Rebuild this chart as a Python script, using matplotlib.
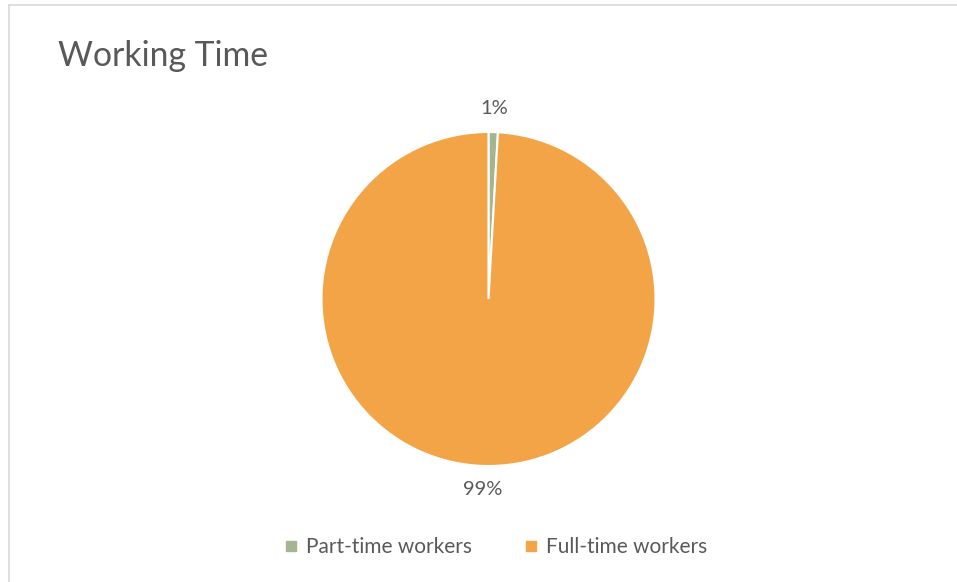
import matplotlib.pyplot as plt
from matplotlib.lines import Line2D

# Datos
labels = ['Part-time workers', 'Full-time workers']
values = [0.9, 99.1]
colors = ['#A5B592', '#F3A447']

plt.rcParams['font.family'] = ['Lato', 'DejaVu Sans']
text_color = '#595959'

fig = plt.figure(figsize=(9.57, 5.82), dpi=100)
fig.patch.set_facecolor('white')

# borde del gráfico (solo arriba e izquierda visibles)
fig.add_artist(Line2D([8.5 / 957, 8.5 / 957], [0, 1 - 4.5 / 582], color='#D9D9D9', lw=1.2))
fig.add_artist(Line2D([8.5 / 957, 1], [1 - 4.5 / 582, 1 - 4.5 / 582], color='#D9D9D9', lw=1.2))

ax = fig.add_axes([321.5 / 957, 116 / 582, 334 / 957, 334 / 582])
wedges, texts, autotexts = ax.pie(
    values, colors=colors, startangle=90, counterclock=False,
    autopct='%.0f%%', pctdistance=1.14,
    wedgeprops=dict(edgecolor='white', linewidth=1.5),
    textprops=dict(color=text_color, fontsize=14.5),
)
ax.set_xlim(-1, 1)
ax.set_ylim(-1, 1)
ax.set_aspect('equal')

fig.text(58 / 957, 1 - 56 / 582, 'Working Time', fontsize=24.3, color=text_color,
         ha='left', va='center')

handles = [Line2D([0], [0], marker='s', linestyle='', markersize=7,
                  markerfacecolor=c, markeredgecolor=c) for c in colors]
fig.legend(handles, labels, loc='center', bbox_to_anchor=(495 / 957, 1 - 547 / 582),
           ncol=2, frameon=False, fontsize=15, labelcolor=text_color,
           handletextpad=0.35, columnspacing=2.4, handlelength=0.8)

fig.savefig('out.png', dpi=100)
